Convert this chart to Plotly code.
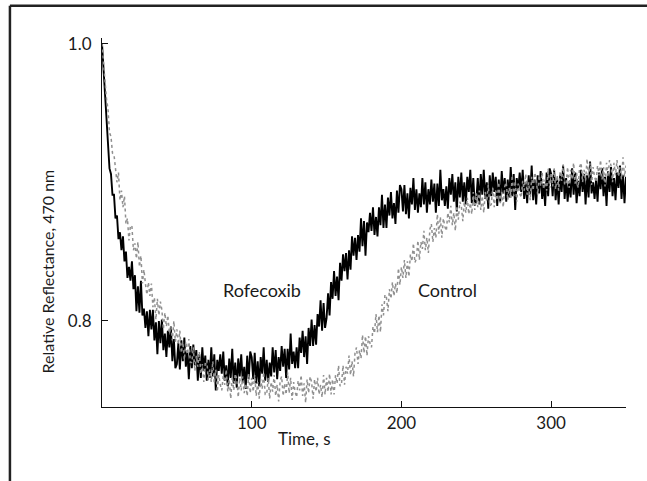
import plotly.graph_objects as go

# time axis (s), one sample per second
time_s = list(range(0, 351))

# Rofecoxib (black trace), relative reflectance x1000
rofecoxib_milli = [
    1000, 982, 970, 944, 932, 910, 906, 891, 891, 874,
    876, 859, 864, 851, 861, 843, 850, 831, 839, 829,
    843, 823, 833, 807, 825, 806, 829, 804, 809, 795,
    807, 789, 808, 794, 808, 786, 799, 776, 800, 784,
    801, 779, 791, 774, 793, 781, 796, 771, 787, 766,
    769, 784, 765, 786, 771, 788, 767, 778, 758, 782,
    766, 783, 768, 779, 757, 776, 759, 781, 764, 775,
    757, 772, 759, 781, 760, 776, 750, 772, 764, 776,
    762, 778, 757, 768, 753, 773, 759, 780, 755, 770,
    752, 773, 760, 776, 756, 767, 751, 775, 758, 778,
    774, 758, 777, 755, 771, 753, 774, 762, 781, 757,
    772, 756, 770, 760, 781, 763, 779, 758, 774, 764,
    782, 767, 780, 759, 780, 765, 791, 769, 778, 766,
    781, 766, 788, 777, 793, 774, 789, 769, 795, 782,
    801, 782, 797, 783, 805, 796, 815, 793, 813, 795,
    802, 820, 804, 828, 816, 836, 818, 832, 815, 842,
    829, 848, 836, 849, 830, 851, 837, 861, 847, 860,
    844, 862, 850, 874, 854, 872, 847, 871, 864, 878,
    865, 882, 862, 875, 861, 882, 869, 891, 867, 884,
    867, 889, 876, 893, 874, 885, 870, 894, 878, 898,
    895, 879, 898, 877, 892, 874, 896, 884, 903, 880,
    895, 878, 892, 882, 903, 884, 900, 878, 895, 884,
    902, 886, 899, 878, 899, 883, 909, 887, 895, 883,
    897, 881, 903, 891, 906, 886, 900, 879, 904, 889,
    907, 886, 900, 884, 904, 893, 909, 885, 903, 883,
    887, 903, 884, 906, 891, 909, 888, 900, 881, 905,
    890, 907, 893, 904, 883, 902, 886, 908, 892, 903,
    886, 902, 889, 911, 890, 906, 880, 903, 895, 907,
    893, 909, 888, 900, 885, 905, 891, 912, 887, 902,
    884, 905, 892, 908, 888, 899, 883, 907, 890, 910,
    906, 890, 909, 887, 902, 884, 905, 893, 912, 888,
    903, 886, 900, 889, 910, 891, 907, 885, 901, 890,
    909, 893, 906, 884, 905, 889, 915, 892, 900, 888,
    902, 886, 907, 895, 910, 890, 904, 883, 908, 893,
    911, 890, 903, 887, 907, 896, 912, 888, 905, 885,
    904,
]

# Control (grey trace), relative reflectance x1000
control_milli = [
    1000, 986, 979, 960, 953, 936, 933, 921, 920, 907,
    900, 907, 887, 894, 882, 890, 870, 874, 858, 869,
    868, 851, 856, 845, 857, 839, 847, 827, 837, 827,
    819, 828, 818, 827, 810, 817, 801, 816, 804, 814,
    808, 794, 806, 796, 804, 791, 796, 786, 800, 785,
    794, 783, 793, 777, 785, 772, 785, 776, 787, 770,
    770, 781, 764, 775, 767, 778, 762, 769, 756, 770,
    772, 757, 765, 756, 771, 755, 765, 749, 761, 754,
    750, 761, 754, 765, 749, 758, 744, 760, 750, 762,
    758, 745, 759, 750, 760, 748, 755, 746, 762, 748,
    759, 749, 761, 746, 756, 744, 758, 751, 763, 747,
    747, 759, 744, 756, 749, 761, 746, 754, 742, 757,
    760, 746, 755, 747, 763, 748, 759, 743, 756, 749,
    745, 757, 750, 761, 746, 755, 741, 758, 748, 760,
    756, 744, 758, 749, 759, 747, 754, 745, 761, 747,
    759, 749, 762, 747, 758, 747, 761, 755, 768, 753,
    755, 768, 754, 767, 762, 775, 761, 771, 760, 777,
    781, 769, 779, 773, 790, 777, 789, 775, 789, 784,
    781, 796, 791, 805, 792, 804, 792, 812, 804, 819,
    817, 807, 823, 816, 828, 818, 827, 820, 838, 826,
    839, 831, 844, 831, 843, 832, 848, 843, 856, 842,
    845, 858, 844, 857, 852, 865, 851, 860, 849, 866,
    870, 857, 867, 860, 877, 863, 875, 860, 874, 868,
    865, 878, 871, 883, 869, 878, 865, 883, 873, 886,
    883, 872, 886, 878, 889, 877, 885, 877, 893, 880,
    892, 882, 894, 880, 890, 878, 893, 886, 898, 883,
    884, 896, 882, 894, 887, 900, 885, 893, 882, 897,
    900, 887, 896, 888, 905, 890, 901, 886, 899, 892,
    889, 901, 894, 906, 891, 900, 887, 904, 894, 907,
    903, 891, 905, 897, 907, 895, 902, 894, 910, 896,
    907, 897, 910, 895, 905, 894, 908, 901, 913, 898,
    899, 911, 896, 909, 902, 914, 899, 907, 896, 911,
    914, 900, 909, 901, 917, 903, 914, 898, 911, 904,
    900, 912, 905, 916, 902, 911, 897, 914, 904, 916,
    912, 900, 914, 905, 916, 904, 911, 902, 918, 904,
    912,
]

x_tick_vals = [100, 200, 300]
x_tick_text = ["100", "200", "300"]
y_tick_vals = [0.8, 1.0]
y_tick_text = ["0.8", "1.0"]

series_labels = ["Rofecoxib", "Control"]
label_pos_x = [106.7, 231.0]
label_pos_y = [0.822, 0.822]

rofecoxib = [v / 1000 for v in rofecoxib_milli]
control = [v / 1000 for v in control_milli]

FONT = "Lato, 'Open Sans', sans-serif"
TXT = "#1a1a1a"

fig = go.Figure()
fig.add_trace(go.Scatter(x=time_s, y=rofecoxib, mode="lines", name="Rofecoxib",
                         line=dict(color="#000000", width=1.9), hoverinfo="skip"))
fig.add_trace(go.Scatter(x=time_s, y=control, mode="lines", name="Control",
                         line=dict(color="#909090", width=1.5, dash="dot"),
                         hoverinfo="skip"))

for txt, lx, ly in zip(series_labels, label_pos_x, label_pos_y):
    fig.add_annotation(x=lx, y=ly, xref="x", yref="y", text=txt, showarrow=False,
                       xanchor="center", yanchor="middle",
                       font=dict(family=FONT, size=18, color=TXT))

# axis titles
fig.add_annotation(x=0.387, y=-0.085, xref="paper", yref="paper", text="Time, s",
                   xanchor="center", yanchor="middle",
                   showarrow=False, font=dict(family=FONT, size=17, color=TXT))
fig.add_annotation(x=-0.104, y=0.366, xref="paper", yref="paper",
                   text="Relative Reflectance, 470 nm", textangle=-90,
                   xanchor="center", yanchor="middle",
                   showarrow=False, font=dict(family=FONT, size=16, color=TXT))

# outer frame (top and left edges)
fig.add_shape(type="line", xref="paper", yref="paper", x0=-0.1757, x1=1.12,
              y0=1.0877, y1=1.0877, line=dict(color="#222222", width=2.5))
fig.add_shape(type="line", xref="paper", yref="paper", x0=-0.1757, x1=-0.1757,
              y0=1.0877, y1=-0.25, line=dict(color="#222222", width=2.5))

fig.update_layout(
    width=647, height=481, autosize=False,
    margin=dict(l=102, r=21, t=38, b=74),
    paper_bgcolor="white", plot_bgcolor="white",
    showlegend=False,
    font=dict(family=FONT, size=15, color=TXT),
)
fig.update_xaxes(range=[0, 350], showgrid=False, zeroline=False,
                 showline=True, linecolor="#111111", linewidth=1,
                 ticks="inside", ticklen=6, tickcolor="#111111",
                 tickvals=x_tick_vals, ticktext=x_tick_text,
                 tickfont=dict(family=FONT, size=17, color=TXT), ticklabelstandoff=1)
fig.update_yaxes(range=[0.738, 1.004], showgrid=False, zeroline=False,
                 showline=True, linecolor="#111111", linewidth=1,
                 ticks="inside", ticklen=6, tickcolor="#111111",
                 tickvals=y_tick_vals, ticktext=y_tick_text,
                 tickfont=dict(family=FONT, size=17, color=TXT), ticklabelstandoff=6)

fig.write_html("out.html")
